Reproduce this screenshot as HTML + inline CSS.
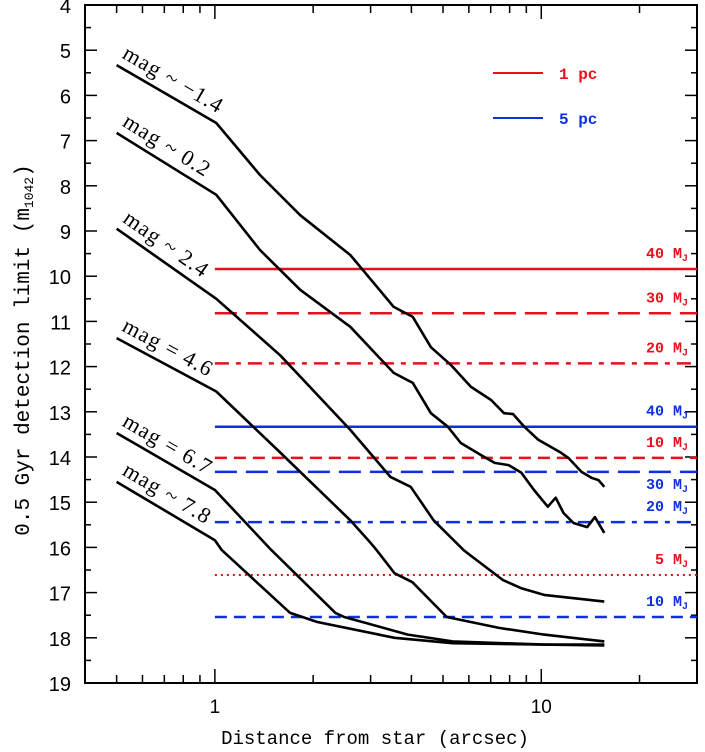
<!DOCTYPE html>
<html><head><meta charset="utf-8"><style>
html,body{margin:0;padding:0;background:#fff;}
svg{display:block;}
</style></head><body>
<svg id="chart" width="705" height="752" viewBox="0 0 705 752" xmlns="http://www.w3.org/2000/svg">
<g id="axes"></g><g id="hlines"></g><g id="curves"></g><g id="labels"></g>
<text x="375" y="744" text-anchor="middle" font-family="Liberation Mono, monospace" font-size="19" fill="#000">Distance from star (arcsec)</text>
<text transform="translate(29,350) rotate(-90)" text-anchor="middle" font-family="Liberation Mono, monospace" font-size="21" fill="#000">0.5 Gyr detection limit (m<tspan font-size="13" dy="4">1042</tspan><tspan dy="-4">)</tspan></text>
<g>
<line x1="493" y1="73" x2="543" y2="73" stroke="#e8101c" stroke-width="2"/>
<text x="559" y="79" font-family="Liberation Mono, monospace" font-weight="bold" font-size="16" fill="#e8101c">1 pc</text>
<line x1="493" y1="118" x2="543" y2="118" stroke="#1030e0" stroke-width="2"/>
<text x="559" y="124" font-family="Liberation Mono, monospace" font-weight="bold" font-size="16" fill="#1030e0">5 pc</text>
</g>
</svg>
<script>
const curveNames=["mag ~ \u22121.4","mag ~ 0.2","mag ~ 2.4","mag = 4.6","mag = 6.7","mag ~ 7.8"];
const curveA_x=[0.5,1.01,1.375,1.826,2.60,3.53,4.04,4.59,5.28,6.09,7.02,7.69,8.20,8.87,9.79,11.52,12.11,13.28,14.25,14.97,15.6];
const curveA_m=[5.33,6.61,7.76,8.65,9.53,10.68,10.9,11.57,11.96,12.45,12.74,13.03,13.05,13.33,13.62,13.91,14.02,14.33,14.46,14.51,14.66];
const curveB_x=[0.5,1.01,1.375,1.826,2.60,3.53,4.04,4.59,5.17,5.67,6.55,7.2,7.94,8.69,9.5,10.47,11.07,11.7,12.55,13.83,14.6,15.6];
const curveB_m=[6.83,8.2,9.42,10.3,11.12,12.14,12.36,13.03,13.33,13.69,13.96,14.13,14.18,14.35,14.73,15.1,14.9,15.24,15.46,15.55,15.33,15.68];
const curveC_x=[0.5,1.01,1.585,2.60,3.45,3.98,4.68,5.78,6.12,7.62,8.66,10.2,15.6];
const curveC_m=[8.95,10.5,11.75,13.4,14.44,14.66,15.4,16.06,16.2,16.72,16.9,17.05,17.2];
const curveD_x=[0.5,1.01,1.585,2.60,3.0,3.13,3.55,4.03,5.13,7.42,10.2,15.6];
const curveD_m=[11.37,12.55,13.9,15.4,15.9,16.06,16.57,16.77,17.54,17.78,17.93,18.08];
const curveE_x=[0.5,1.0,1.49,2.34,2.49,3.9,5.35,10.2,15.6];
const curveE_m=[13.47,14.73,16.06,17.45,17.54,17.93,18.08,18.15,18.15];
const curveF_x=[0.5,1.0,1.05,1.70,2.06,3.55,5.35,15.6];
const curveF_m=[14.55,15.84,16.06,17.45,17.65,18.0,18.12,18.17];
const curveXs=[curveA_x,curveB_x,curveC_x,curveD_x,curveE_x,curveF_x];
const curveMs=[curveA_m,curveB_m,curveC_m,curveD_m,curveE_m,curveF_m];
const limitLabels=["40","30","20","40","10","30","20","5","10"];
const limitMags=[9.84,10.82,11.93,13.33,14.02,14.33,15.44,16.61,17.54];
const limitDist=["1pc","1pc","1pc","5pc","1pc","5pc","5pc","1pc","5pc"];
const limitStyle=["solid","long","dashdot","solid","short","long","dashdot","dot","short"];
const yTicks=[4,5,6,7,8,9,10,11,12,13,14,15,16,17,18,19];
const xTickLabels=[1,10];
const xMinorTicks=[0.5,0.6,0.7,0.8,0.9,2,3,4,5,6,7,8,9,20,30];

const L=85,R=697,T=5,B=683;
const XMIN=0.4,XMAX=30,YMIN=4,YMAX=19;
const X=v=>L+(Math.log10(v)-Math.log10(XMIN))/(Math.log10(XMAX)-Math.log10(XMIN))*(R-L);
const Y=v=>T+(v-YMIN)/(YMAX-YMIN)*(B-T);
const NS="http://www.w3.org/2000/svg";
function mk(tag,parent,attrs){const e=document.createElementNS(NS,tag);for(const k in attrs)e.setAttribute(k,attrs[k]);parent.appendChild(e);return e;}
const ax=document.getElementById('axes');
const frame=mk('rect',ax,{x:L,y:T,width:R-L,height:B-T,fill:'none',stroke:'#000','stroke-width':2});


yTicks.forEach((v,i)=>{
  const y=Y(v);
  [[L,L+12],[R,R-12]].forEach(p=>{const t=mk('line',ax,{x1:p[0],y1:y,x2:p[1],y2:y,stroke:'#000','stroke-width':1.5});
    
    });
  if(v<YMAX){const ym=Y(v+0.5);[[L,L+6],[R,R-6]].forEach(p=>{const t=mk('line',ax,{x1:p[0],y1:ym,x2:p[1],y2:ym,stroke:'#000','stroke-width':1.5});
    
    });}
  const tx=mk('text',ax,{x:L-14,y:y+8,'text-anchor':'end','font-family':'Liberation Sans, sans-serif','font-size':20,fill:'#000'});
  tx.textContent=v;
  
  
});
xTickLabels.forEach(v=>{
  const x=X(v);
  [[B,B-14],[T,T+14]].forEach(p=>{const t=mk('line',ax,{x1:x,y1:p[0],x2:x,y2:p[1],stroke:'#000','stroke-width':1.5});
    
    });
  const tx=mk('text',ax,{x:x,y:B+30,'text-anchor':'middle','font-family':'Liberation Sans, sans-serif','font-size':19,fill:'#000'});
  tx.textContent=v;
  
  
});
xMinorTicks.forEach(v=>{
  const x=X(v);
  [[B,B-8],[T,T+8]].forEach(p=>{const t=mk('line',ax,{x1:x,y1:p[0],x2:x,y2:p[1],stroke:'#000','stroke-width':1.5});
    
    });
});
const hl=document.getElementById('hlines');
const dashes={solid:'',long:'22 9',dashdot:'14 7 5 7',short:'12 7',dot:'2 4'};
limitMags.forEach((m,i)=>{
  const col=limitDist[i]==='1pc'?'#e8101c':'#1030e0';
  const y=Y(m);
  const ln=mk('line',hl,{x1:X(1),y1:y,x2:R,y2:y,stroke:col,'stroke-width':limitStyle[i]==='dot'?2:2.5});
  if(dashes[limitStyle[i]])ln.setAttribute('stroke-dasharray',dashes[limitStyle[i]]);
  
  
  const below=(limitDist[i]==='5pc'&&limitLabels[i]==='30');
  const t=mk('text',hl,{x:688,y:below?y+17:y-11,'text-anchor':'end','font-family':'Liberation Mono, monospace','font-weight':'bold','font-size':15,fill:col});
  t.innerHTML=limitLabels[i]+' M<tspan font-size="10" dy="3">J</tspan>';
  
  
});
const cg=document.getElementById('curves');
const lg=document.getElementById('labels');
curveXs.forEach((xs,i)=>{
  const ms=curveMs[i];
  const d=xs.map((x,j)=>(j?'L':'M')+X(x).toFixed(1)+','+Y(ms[j]).toFixed(1)).join(' ');
  const p=mk('path',cg,{d:d,fill:'none',stroke:'#000','stroke-width':2.6,'stroke-linejoin':'round'});
  
  
  const x0=X(xs[0]),y0=Y(ms[0]),x1=X(xs[1]),y1=Y(ms[1]);
  const ang=Math.atan2(y1-y0,x1-x0)*180/Math.PI;
  const t=mk('text',lg,{transform:`translate(${x0},${y0}) rotate(${ang}) translate(0,-9)`,'font-family':'Liberation Serif, serif','font-size':22,'letter-spacing':'1.2',fill:'#000'});
  t.textContent=curveNames[i];
  
  
});
</script>
</body></html>
